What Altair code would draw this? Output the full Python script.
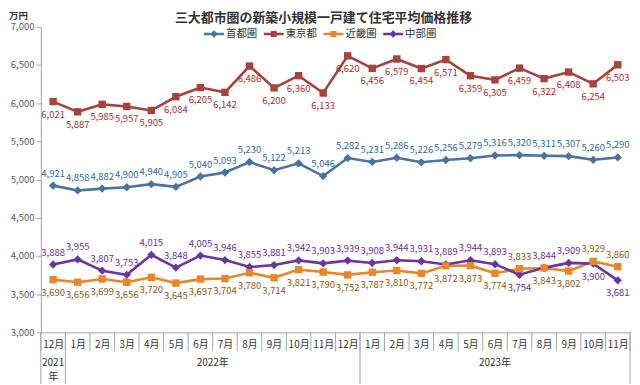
import json
import altair as alt
import pandas as pd

# ---------------- data ----------------
chart_title = "三大都市圏の新築小規模一戸建て住宅平均価格推移"
months = ["12月", "1月", "2月", "3月", "4月", "5月", "6月", "7月", "8月", "9月", "10月", "11月",
          "12月", "1月", "2月", "3月", "4月", "5月", "6月", "7月", "8月", "9月", "10月", "11月"]
years = ["2021年", "2022年", "2023年"]
year_first_month = [0, 1, 13]          # index of first month of each year in `months`

series_names = ["首都圏", "東京都", "近畿圏", "中部圏"]
shuto = [4921, 4858, 4882, 4900, 4940, 4905, 5040, 5093, 5230, 5122, 5213, 5046,
         5282, 5231, 5286, 5226, 5256, 5279, 5316, 5320, 5311, 5307, 5260, 5290]
tokyo = [6021, 5887, 5985, 5957, 5905, 6084, 6205, 6142, 6486, 6200, 6360, 6133,
         6620, 6456, 6579, 6454, 6571, 6359, 6305, 6459, 6322, 6408, 6254, 6503]
kinki = [3690, 3656, 3699, 3656, 3720, 3645, 3697, 3704, 3780, 3714, 3821, 3790,
         3752, 3787, 3810, 3772, 3872, 3873, 3774, 3833, 3843, 3802, 3929, 3860]
chubu = [3888, 3955, 3807, 3753, 4015, 3848, 4005, 3946, 3855, 3881, 3942, 3903,
         3939, 3908, 3944, 3931, 3889, 3944, 3893, 3754, 3844, 3909, 3900, 3681]
y_ticks = [3000, 3500, 4000, 4500, 5000, 5500, 6000, 6500, 7000]

line_colors = ["#4873a2", "#a5423e", "#e8862a", "#6a35a0"]
label_colors = ["#2f6ca3", "#a8302c", "#8a5a12", "#6a2f9a"]
diamond_series = ["首都圏", "中部圏"]
square_series = ["東京都", "近畿圏"]

# ---------------- frames ----------------
n = len(months)
vals = dict(zip(series_names, [shuto, tokyo, kinki, chubu]))
rows = []
for s in series_names:
    for i, v in enumerate(vals[s]):
        if s == "首都圏":
            side = "above"
        elif s == "東京都":
            side = "below"
        else:
            side = "above" if v == max(kinki[i], chubu[i]) else "below"
        rows.append({"series": s, "pos": i + 0.5, "value": v, "side": side})
df = pd.DataFrame(rows)

bounds = pd.DataFrame({"b": list(range(n + 1))})
year_bounds = pd.DataFrame({"b": year_first_month + [n]})
year_end = year_first_month[1:] + [n]
ydf = pd.DataFrame({
    "center": [(a + b) / 2 for a, b in zip(year_first_month, year_end)],
    "label": [y[:4] + "\n" + y[4:] if (b - a) == 1 else y
              for y, a, b in zip(years, year_first_month, year_end)],
})

W, H = 592, 307
FONT = "Noto Sans CJK JP"
GRAY = "#a6a6a6"

x_axis = alt.Axis(values=[i + 0.5 for i in range(n)],
                  labelExpr=json.dumps(months, ensure_ascii=False) + "[floor(datum.value)]",
                  ticks=False, tickSize=0, grid=False, domainColor=GRAY, labelFont=FONT,
                  labelFontSize=10, labelColor="#333333", labelPadding=7,
                  labelOverlap=False, labelFlush=False, title=None)
x_scale = alt.Scale(domain=[0, n], nice=False, zero=False)
y_scale = alt.Scale(domain=[3000, 7000], nice=False, zero=False)
y_axis = alt.Axis(values=y_ticks, format=",.0f", grid=False, tickSize=5, tickColor=GRAY,
                  domainColor=GRAY, labelFont=FONT, labelFontSize=9.5, labelColor="#595959",
                  labelPadding=2, title="万円", titleAngle=0, titleX=-23, titleY=-11,
                  titleFont=FONT, titleFontSize=9.5, titleFontWeight="bold",
                  titleColor="#333333", titleAlign="center", titleBaseline="middle")

X = alt.X("pos:Q", scale=x_scale, axis=x_axis)
Y = alt.Y("value:Q", scale=y_scale, axis=y_axis)
line_color = alt.Color("series:N", scale=alt.Scale(domain=series_names, range=line_colors), legend=None)
text_color = alt.Color("series:N", scale=alt.Scale(domain=series_names, range=label_colors), legend=None)

base = alt.Chart(df)

title_layer = alt.Chart(pd.DataFrame({"t": [chart_title]})).mark_text(
    font=FONT, fontSize=13, fontWeight="bold", color="#333333", align="center", baseline="middle").encode(
    x=alt.value(W / 2 - 12), y=alt.value(-9), text="t:N")

month_div = alt.Chart(bounds).mark_rule(color=GRAY, strokeWidth=1).encode(
    x=alt.X("b:Q", scale=x_scale, axis=x_axis), y=alt.value(H), y2=alt.value(H + 19))
year_div = alt.Chart(year_bounds).mark_rule(color=GRAY, strokeWidth=1).encode(
    x=alt.X("b:Q", scale=x_scale, axis=x_axis), y=alt.value(H), y2=alt.value(H + 52))
year_text = alt.Chart(ydf).mark_text(font=FONT, fontSize=10, color="#333333", baseline="top",
                                     lineBreak="\n", lineHeight=14).encode(
    x=alt.X("center:Q", scale=x_scale, axis=x_axis), y=alt.value(H + 26), text="label:N")

lines = base.mark_line(strokeWidth=2.6).encode(x=X, y=Y, color=line_color)
pts_d = base.transform_filter(alt.FieldOneOfPredicate(field="series", oneOf=diamond_series)).mark_point(
    filled=True, shape="diamond", size=70, opacity=1).encode(x=X, y=Y, color=line_color)
pts_s = base.transform_filter(alt.FieldOneOfPredicate(field="series", oneOf=square_series)).mark_point(
    filled=True, shape="square", size=55, opacity=1).encode(x=X, y=Y, color=line_color)

lab_up = base.transform_filter(alt.datum.side == "above").mark_text(
    font=FONT, fontSize=9.5, baseline="middle", dy=-12).encode(
    x=X, y=Y, text=alt.Text("value:Q", format=","), color=text_color)
lab_dn = base.transform_filter(alt.datum.side == "below").mark_text(
    font=FONT, fontSize=9.5, baseline="middle", dy=13).encode(
    x=X, y=Y, text=alt.Text("value:Q", format=","), color=text_color)

diamond_path = "M-1,-0.12H1V0.12H-1Z M0,-0.38L0.38,0L0,0.38L-0.38,0Z"
square_path = "M-1,-0.12H1V0.12H-1Z M-0.3,-0.3H0.3V0.3H-0.3Z"
legend = alt.Legend(title=None, orient="none", legendX=164, legendY=-3, direction="horizontal",
                    symbolSize=400, symbolStrokeWidth=0, labelFont=FONT, labelFontSize=10.5,
                    labelColor="#333333", columnPadding=6, labelOffset=2, padding=0)
legend_layer = base.mark_point(filled=True, clip=True, strokeWidth=0, opacity=1).encode(
    x=alt.value(-200), y=alt.value(-200),
    color=alt.Color("series:N", scale=alt.Scale(domain=series_names, range=line_colors), legend=legend),
    shape=alt.Shape("series:N", scale=alt.Scale(
        domain=series_names,
        range=[diamond_path if s in diamond_series else square_path for s in series_names]),
        legend=legend),
)

chart = alt.layer(title_layer, month_div, year_div, year_text, lines, pts_d, pts_s, lab_up, lab_dn,
                  legend_layer).resolve_scale(
    color="independent", shape="independent"
).properties(
    width=W, height=H,
    autosize=alt.AutoSizeParams(type="none"),
    padding={"left": 33, "top": 18, "right": 2, "bottom": 51},
    background="white",
).configure_view(stroke=None)

chart.save("out.html", embed_options={"renderer": "svg", "actions": False})
